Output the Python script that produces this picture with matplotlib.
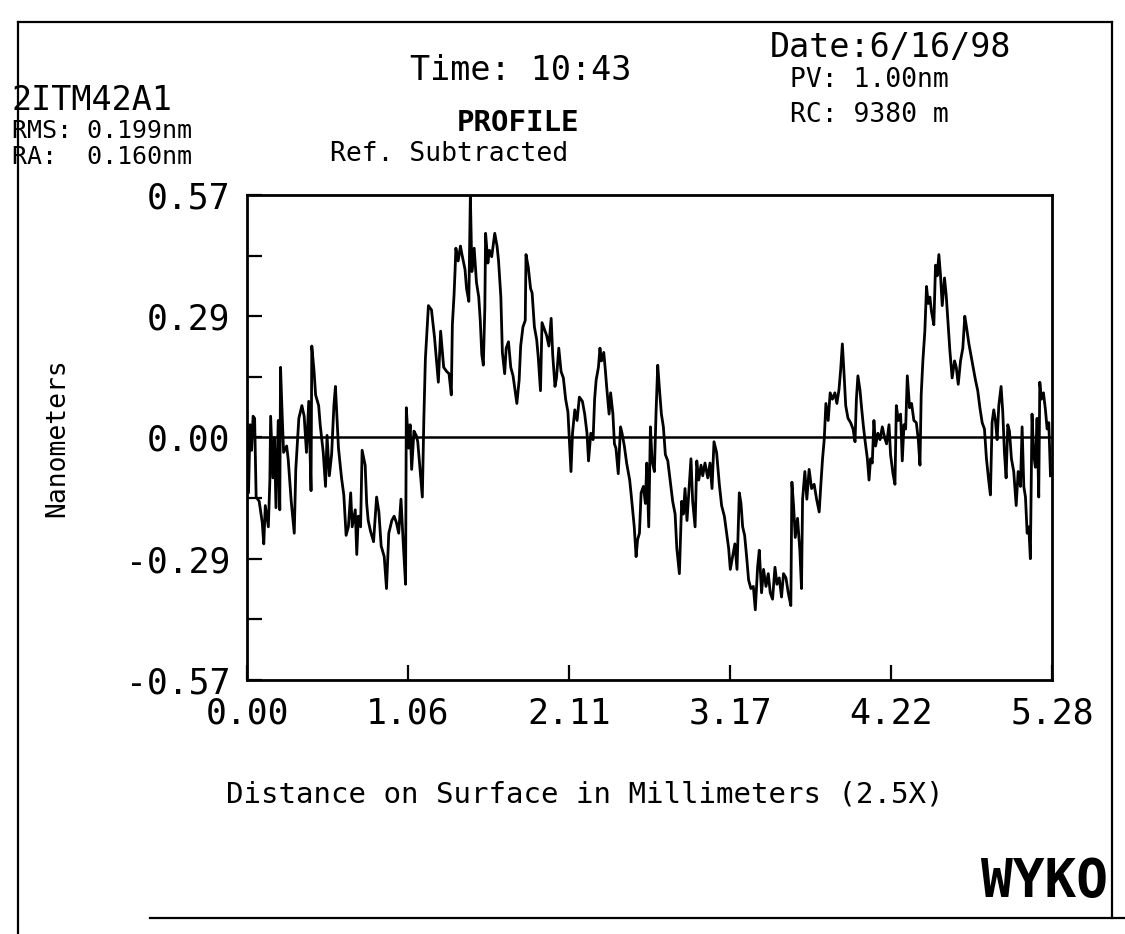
import matplotlib
matplotlib.use("Agg")
import matplotlib.pyplot as plt
from matplotlib.lines import Line2D

plt.rcParams['font.family'] = 'DejaVu Sans Mono'

# surface profile, distance (mm) vs height (nm)
profile_x = [
    0.00, 0.01, 0.02, 0.03, 0.04, 0.05, 0.06, 0.08, 0.10, 0.11, 0.12, 0.14, 0.15, 0.155, 0.17, 0.18,
    0.19, 0.205, 0.215, 0.22, 0.23, 0.24, 0.26, 0.27, 0.29, 0.31, 0.32, 0.34, 0.36, 0.375, 0.39, 0.405,
    0.42, 0.425, 0.44, 0.45, 0.47, 0.48, 0.50, 0.515, 0.525, 0.54, 0.555, 0.57, 0.58, 0.59, 0.60, 0.62,
    0.635, 0.65, 0.665, 0.68, 0.69, 0.71, 0.72, 0.73, 0.745, 0.755, 0.775, 0.785, 0.795, 0.81, 0.83, 0.85,
    0.865, 0.88, 0.90, 0.915, 0.93, 0.95, 0.965, 0.98, 0.995, 1.01, 1.025, 1.04, 1.045, 1.06, 1.07, 1.08,
    1.095, 1.11, 1.12, 1.135, 1.15, 1.16, 1.17, 1.19, 1.21, 1.23, 1.255, 1.27,
    1.29, 1.31, 1.325, 1.34, 1.347, 1.358, 1.365, 1.37, 1.385, 1.40, 1.41, 1.43, 1.44, 1.455, 1.465, 1.475,
    1.49, 1.505, 1.52, 1.53, 1.54, 1.55, 1.56, 1.565, 1.58, 1.59, 1.605, 1.625, 1.64, 1.65, 1.665, 1.675,
    1.69, 1.70, 1.715, 1.73, 1.745, 1.76, 1.77, 1.785, 1.795, 1.81, 1.825, 1.83, 1.845, 1.86, 1.87, 1.885,
    1.90, 1.91, 1.925, 1.935, 1.95, 1.965, 1.98, 1.995, 2.005, 2.02, 2.03, 2.045, 2.06, 2.075, 2.09, 2.105,
    2.115, 2.125, 2.135, 2.15, 2.165, 2.18, 2.20, 2.215, 2.23, 2.24, 2.255, 2.27, 2.28, 2.29, 2.305, 2.315,
    2.325, 2.34, 2.35, 2.36, 2.375, 2.385, 2.40, 2.41, 2.42, 2.435, 2.45, 2.46, 2.475, 2.49, 2.51, 2.52,
    2.54, 2.552, 2.562,
    2.574, 2.585, 2.60, 2.613, 2.622, 2.635, 2.646, 2.657, 2.672, 2.683, 2.694, 2.705, 2.718, 2.731, 2.744, 2.76,
    2.775, 2.792, 2.808, 2.819, 2.836, 2.851, 2.862, 2.873, 2.886, 2.901, 2.912, 2.923, 2.939, 2.95, 2.963, 2.978,
    2.989, 3.004, 3.022, 3.037, 3.05, 3.063, 3.08, 3.098, 3.113, 3.131, 3.146, 3.159, 3.17, 3.185, 3.20, 3.214,
    3.229, 3.24, 3.251, 3.264, 3.277, 3.29, 3.305, 3.321, 3.334, 3.349, 3.36, 3.375, 3.388, 3.404, 3.419, 3.432,
    3.447, 3.463, 3.476, 3.491, 3.506, 3.519, 3.535, 3.55, 3.567, 3.574, 3.585, 3.596, 3.611, 3.626, 3.637, 3.644,
    3.659, 3.672, 3.687, 3.703, 3.72, 3.736, 3.753, 3.764, 3.775, 3.786, 3.797, 3.812, 3.825, 3.84, 3.856, 3.869,
    3.883, 3.894, 3.905, 3.916, 3.927, 3.942, 3.959, 3.975, 3.988, 3.997, 4.007, 4.021, 4.031, 4.042, 4.053, 4.069,
    4.08, 4.09, 4.101, 4.112, 4.123, 4.138, 4.152, 4.167, 4.182, 4.195, 4.211, 4.221, 4.237, 4.25, 4.259, 4.272,
    4.287, 4.298, 4.309, 4.32, 4.331, 4.346, 4.359, 4.374, 4.39, 4.403, 4.414, 4.422, 4.433, 4.446, 4.457, 4.468,
    4.479, 4.49, 4.505, 4.516, 4.527, 4.538, 4.549, 4.56, 4.575, 4.586, 4.599, 4.61, 4.625, 4.641, 4.652, 4.665,
    4.68, 4.695, 4.708, 4.719, 4.735, 4.75, 4.763, 4.778, 4.793, 4.807, 4.822, 4.837, 4.85, 4.866, 4.876, 4.887,
    4.898, 4.909, 4.92, 4.931, 4.946, 4.957, 4.968, 4.979, 4.99, 5.001, 5.014, 5.029, 5.045, 5.058, 5.073, 5.084,
    5.095, 5.106, 5.117, 5.128, 5.138, 5.149, 5.16, 5.171, 5.182, 5.193, 5.20, 5.21, 5.224, 5.237, 5.248, 5.259,
    5.27,
]
profile_nm = [
    0.02, -0.13, 0.03, -0.03, 0.05, 0.045, -0.14, -0.15, -0.20, -0.25, -0.16, -0.21, -0.10, 0.05, -0.095, 0.00,
    -0.165, 0.04, -0.17, 0.165, 0.06, -0.035, -0.02, -0.05, -0.15, -0.225, -0.075, 0.045, 0.075, 0.05, -0.035, 0.085,
    -0.125, 0.215, 0.155, 0.10, 0.075, 0.03, -0.035, -0.115, 0.005, -0.09, -0.04, 0.075, 0.12, 0.045, -0.025, -0.095,
    -0.135, -0.23, -0.21, -0.13, -0.21, -0.17, -0.275, -0.185, -0.21, -0.03, -0.065, -0.155, -0.195, -0.22, -0.245, -0.14,
    -0.175, -0.255, -0.28, -0.355, -0.225, -0.195, -0.185, -0.20, -0.225, -0.145, -0.25, -0.345, 0.07, -0.025, 0.03, -0.075,
    0.015, 0.005, -0.01, -0.075, -0.14, 0.045, 0.185, 0.31, 0.30, 0.235, 0.13, 0.25,
    0.165, 0.155, 0.15, 0.10, 0.265, 0.335, 0.395, 0.445, 0.415, 0.45, 0.43, 0.395, 0.35, 0.32, 0.57, 0.39,
    0.445, 0.365, 0.33, 0.275, 0.195, 0.17, 0.305, 0.48, 0.41, 0.44, 0.425, 0.48, 0.45, 0.415, 0.33, 0.20,
    0.15, 0.21, 0.225, 0.165, 0.145, 0.105, 0.08, 0.135, 0.215, 0.26, 0.275, 0.43, 0.40, 0.35, 0.34, 0.26,
    0.23, 0.19, 0.11, 0.27, 0.255, 0.24, 0.215, 0.28, 0.195, 0.12, 0.14, 0.21, 0.155, 0.14, 0.09, 0.06,
    -0.01, -0.08, 0.01, 0.065, 0.04, 0.095, 0.085, 0.055, 0.01, -0.055, 0.01, -0.005, 0.09, 0.135, 0.165, 0.21,
    0.18, 0.20, 0.16, 0.115, 0.055, 0.105, 0.055, -0.015, -0.025, -0.085, 0.025, 0.01, -0.02, -0.06, -0.10, -0.135,
    -0.21, -0.28, -0.24,
    -0.225, -0.13, -0.115, -0.155, -0.06, -0.21, 0.025, -0.055, -0.08, 0.06, 0.17, 0.115, 0.055, 0.025, -0.04, -0.055,
    -0.10, -0.15, -0.18, -0.26, -0.32, -0.15, -0.18, -0.12, -0.195, -0.11, -0.05, -0.15, -0.21, -0.055, -0.10, -0.065,
    -0.09, -0.06, -0.095, -0.06, -0.12, -0.01, -0.035, -0.11, -0.16, -0.185, -0.225, -0.26, -0.31, -0.28, -0.25, -0.31,
    -0.13, -0.155, -0.21, -0.23, -0.28, -0.335, -0.355, -0.35, -0.405, -0.305, -0.265, -0.365, -0.31, -0.35, -0.32, -0.365,
    -0.38, -0.305, -0.345, -0.33, -0.375, -0.32, -0.33, -0.365, -0.395, -0.105, -0.16, -0.235, -0.19, -0.265, -0.355, -0.145,
    -0.08, -0.145, -0.075, -0.12, -0.11, -0.145, -0.175, -0.11, -0.05, -0.005, 0.08, 0.04, 0.105, 0.09, 0.105, 0.08,
    0.113, 0.16, 0.22, 0.15, 0.075, 0.045, 0.035, 0.02, -0.01, 0.09, 0.145, 0.11, 0.07, 0.03, -0.005, -0.05,
    -0.10, -0.05, -0.06, 0.04, -0.02, 0.01, -0.005, 0.025, 0.0, -0.015, 0.03, -0.04, -0.085, -0.11, 0.075, 0.04,
    0.055, -0.055, 0.03, 0.02, 0.145, 0.07, 0.08, 0.04, 0.035, -0.005, -0.065, 0.10, 0.18, 0.25, 0.355, 0.315,
    0.33, 0.295, 0.265, 0.405, 0.38, 0.43, 0.38, 0.31, 0.375, 0.335, 0.265, 0.205, 0.14, 0.18, 0.165, 0.125,
    0.18, 0.21, 0.285, 0.26, 0.22, 0.19, 0.165, 0.135, 0.11, 0.07, 0.035, 0.02, -0.05, -0.105, -0.135, 0.035,
    0.065, 0.04, -0.005, 0.075, 0.12, 0.06, -0.035, -0.095, 0.03, 0.015, -0.05, -0.08, -0.16, -0.08, -0.115, 0.025,
    -0.115, -0.14, -0.225, -0.21, -0.285, 0.055, -0.04, -0.07, 0.045, -0.14, 0.13, 0.09, 0.105, 0.065, 0.02, 0.035,
    -0.09,
]
ref_level = 0.0

y_ticks = [-0.57, -0.285, 0.0, 0.285, 0.57]
y_labels = ["-0.57", "-0.29", "0.00", "0.29", "0.57"]
y_minor = [-0.4275, -0.1425, 0.1425, 0.4275]
x_ticks = [0.0, 1.056, 2.112, 3.168, 4.224, 5.28]
x_labels = ["0.00", "1.06", "2.11", "3.17", "4.22", "5.28"]

W, H = 1125, 934
fig = plt.figure(figsize=(W / 100, H / 100), dpi=100)
fig.patch.set_facecolor("white")


def px(x, y):
    # pixel position -> figure fraction
    return x / W, 1 - y / H


# outer page frame
fx0, fy0 = px(18, 22)
fx1, fy1 = px(1112, 918)
for xs, ys in [([fx0, fx1], [fy0, fy0]), ([fx0, fx0], [fy0, 0]), ([fx1, fx1], [fy0, fy1]),
               ([px(150, 0)[0], 1], [fy1, fy1])]:
    fig.add_artist(Line2D(xs, ys, color="black", lw=1.6))

# header block
fig.text(*px(12, 100), "2ITM42A1", fontsize=24, va="center", ha="left")
fig.text(*px(12, 131), "RMS: 0.199nm", fontsize=18, va="center", ha="left")
fig.text(*px(12, 157), "RA:  0.160nm", fontsize=18, va="center", ha="left")
fig.text(*px(410, 70), "Time: 10:43", fontsize=24, va="center", ha="left")
fig.text(*px(770, 48), "Date:6/16/98", fontsize=24, va="center", ha="left")
fig.text(*px(790, 80), "PV: 1.00nm", fontsize=19, va="center", ha="left")
fig.text(*px(790, 115), "RC: 9380 m", fontsize=19, va="center", ha="left")
fig.text(*px(518, 123), "PROFILE", fontsize=21, fontweight="bold", va="center", ha="center")
fig.text(*px(330, 154), "Ref. Subtracted", fontsize=19, va="center", ha="left")

ax = fig.add_axes([247 / W, 1 - 680 / H, 805 / W, 485 / H])
ax.plot(profile_x, profile_nm, color="black", lw=2.0)
ax.axhline(ref_level, color="black", lw=1.8)

ax.set_xlim(0, 5.28)
ax.set_ylim(-0.57, 0.57)
ax.set_yticks(y_ticks)
ax.set_yticklabels(y_labels)
ax.set_yticks(y_minor, minor=True)
ax.set_xticks(x_ticks)
ax.set_xticklabels(x_labels)
ax.tick_params(axis="both", which="both", direction="in", length=11, width=1.6,
               labelsize=25, pad=12, top=False, right=False)
for sp in ax.spines.values():
    sp.set_linewidth(2)

ax.set_ylabel("Nanometers", fontsize=19, labelpad=40)
fig.text(*px(585, 795), "Distance on Surface in Millimeters (2.5X)", fontsize=21,
         va="center", ha="center")
fig.text(*px(1108, 882), "WYKO", fontsize=38, fontweight="bold", va="center", ha="right")

fig.savefig("out.png", dpi=100)
